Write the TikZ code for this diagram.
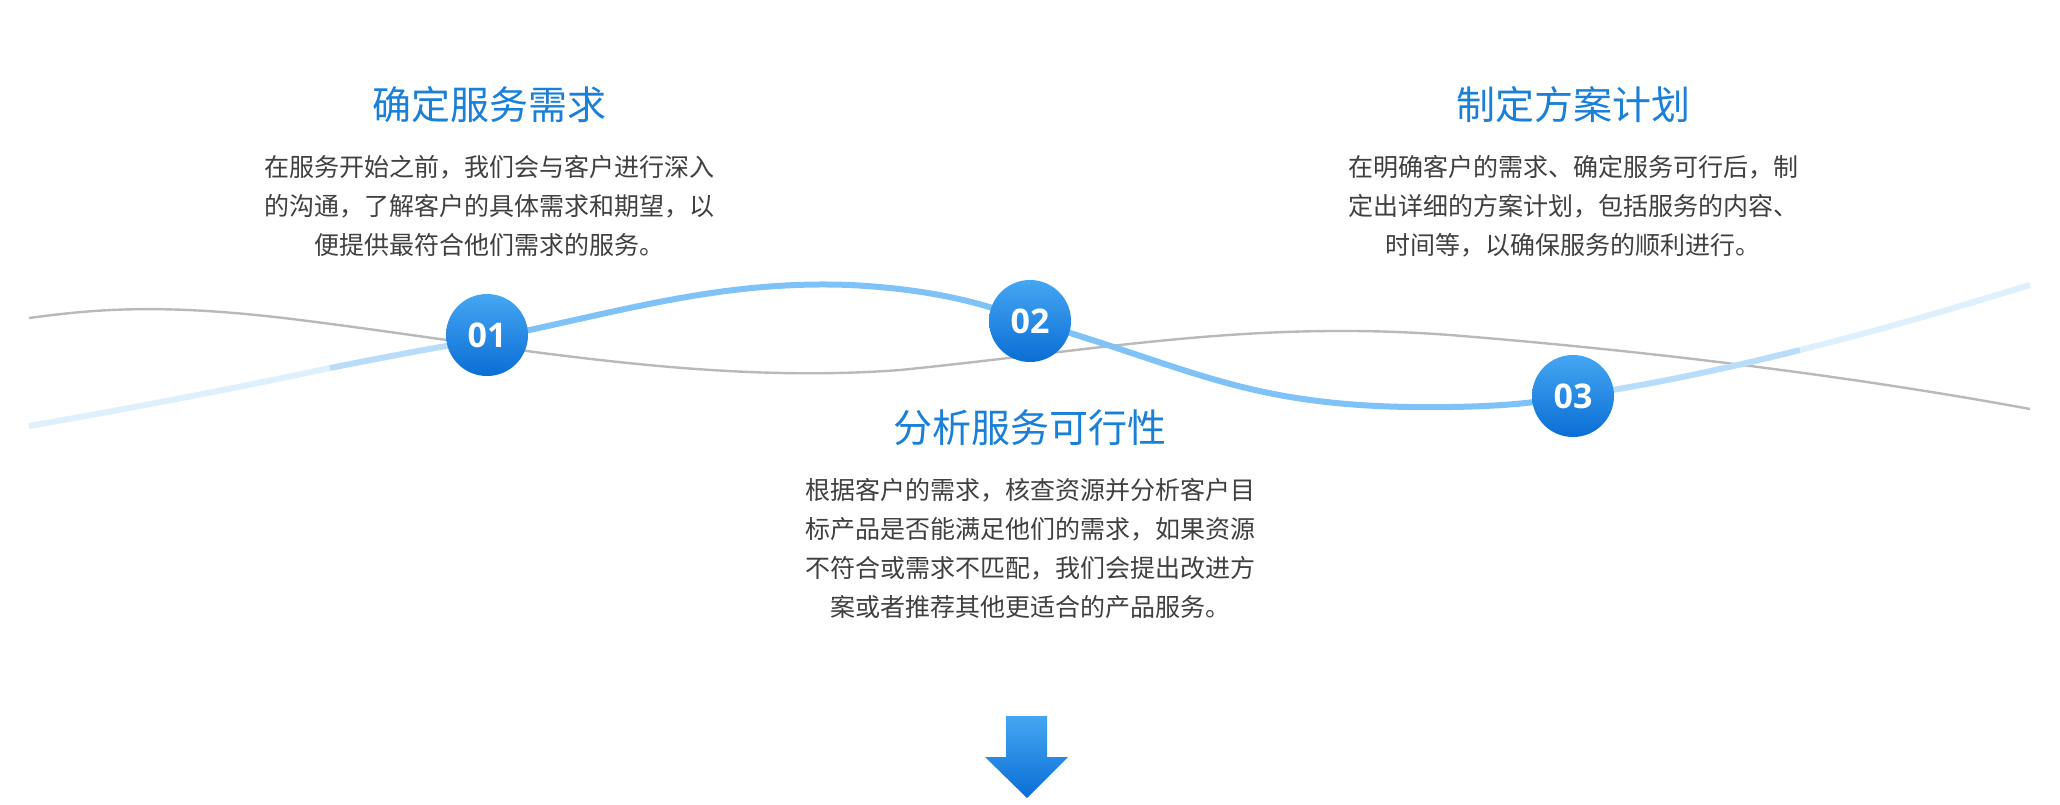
\documentclass[tikz,border=0pt]{standalone}
\usepackage{fontspec}
\setmainfont{Noto Sans CJK SC}
\newfontfamily\cjk{Noto Sans CJK SC}
\newfontfamily\numfont{Open Sans}
\definecolor{tblue}{HTML}{1A7FD8}
\definecolor{cblueA}{HTML}{45A6F2}
\definecolor{cblueB}{HTML}{0A6ED5}
\definecolor{lineblue}{HTML}{7EC2F8}
\definecolor{txt}{HTML}{404040}
\tikzset{
 title/.style={text=tblue,font=\cjk\fontsize{19.5}{24}\selectfont},
 body/.style={text=txt,font=\cjk\fontsize{12.5}{19.6}\selectfont,align=center},
 num/.style={circle,minimum size=41pt,inner sep=0pt,top color=cblueA,bottom color=cblueB,text=white,font=\numfont\bfseries\fontsize{17}{20}\selectfont},
}
\begin{document}
\begin{tikzpicture}[x=0.5pt,y=-0.5pt]
\useasboundingbox (0,0) rectangle (2060,804);
\fill[white] (0,0) rectangle (2060,804);
% gray curve
\draw[gray!55,line width=1.2pt] (29,318) .. controls (90,310) and (158,302) .. (300,320)
 .. controls (500,345) and (700,385) .. (900,370)
 .. controls (1100,350) and (1250,320) .. (1450,335)
 .. controls (1700,355) and (1900,385) .. (2030,409);
% blue curve pieces
\coordinate (c1) at (487,339);
\coordinate (c3) at (1573,396);
\draw[lineblue!25,line width=3pt] (29,426) .. controls (150,405) and (250,385) .. (330,368);
\draw[lineblue!55,line width=3pt] (330,368) .. controls (400,354) and (445,346) .. (c1);
\draw[lineblue,line width=3pt] (c1) .. controls (620,312) and (720,280) .. (850,285)
 .. controls (950,290) and (1000,310) .. (1030,321)
 .. controls (1200,370) and (1250,410) .. (1450,407)
 .. controls (1520,406) and (1550,400) .. (c3);
\draw[lineblue!55,line width=3pt] (c3) .. controls (1650,385) and (1720,370) .. (1800,350);
\draw[lineblue!25,line width=3pt] (1800,350) .. controls (1900,325) and (1970,303) .. (2030,285);
% circles
\node[num] (n1) at (487,335) {01};
\node[num] (n2) at (1030,321) {02};
\node[num] (n3) at (1573,396) {03};
% texts
\node[title] (t1) at (489,105) {确定服务需求};
\node[body,anchor=north] (b1) at (489,148) {在服务开始之前，我们会与客户进行深入\\的沟通，了解客户的具体需求和期望，以\\便提供最符合他们需求的服务。};
\node[title] (t3) at (1573,105) {制定方案计划};
\node[body,anchor=north] (b3) at (1573,148) {在明确客户的需求、确定服务可行后，制\\定出详细的方案计划，包括服务的内容、\\时间等，以确保服务的顺利进行。};
\node[title] (t2) at (1030,428) {分析服务可行性};
\node[body,anchor=north] (b2) at (1030,471) {根据客户的需求，核查资源并分析客户目\\标产品是否能满足他们的需求，如果资源\\不符合或需求不匹配，我们会提出改进方\\案或者推荐其他更适合的产品服务。};
% arrow
\shade[top color=cblueA,bottom color=cblueB] (1006,716) -- (1047,716) -- (1047,757) -- (1068,757) -- (1027,798) -- (985,757) -- (1006,757) -- cycle;
\end{tikzpicture}
\end{document}
